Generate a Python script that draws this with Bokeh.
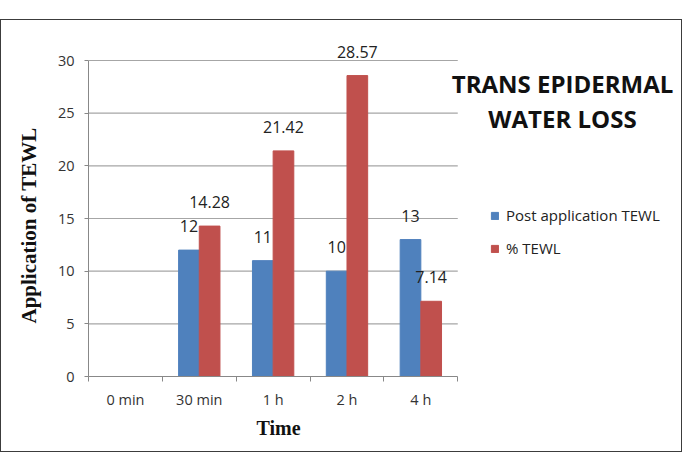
from bokeh.plotting import figure
from bokeh.models import ColumnDataSource, FixedTicker, Legend, LegendItem, Label, Title
from bokeh.transform import dodge
from bokeh.core.properties import value
from bokeh.embed import file_html
from bokeh.resources import INLINE

categories = ["0 min", "30 min", "1 h", "2 h", "4 h"]
post_tewl = [0, 12, 11, 10, 13]
pct_tewl = [0, 14.28, 21.42, 28.57, 7.14]
y_ticks = [0, 5, 10, 15, 20, 25, 30]

BLUE = "#4F81BD"
RED = "#C0504D"
BAR_W = 0.28
GRID = "#A6A6A6"

# layout (pixels)
W, H = 682, 433
LEFT, BOTTOM, TOP, RIGHT = 81, 77, 2, 2
CAT_PX = 74.6          # width of one category in pixels
UNIT_PX = 316 / 30     # pixels per y unit

n = len(categories)
frame_w = W - LEFT - RIGHT
frame_h = H - TOP - BOTTOM
x_end = -0.5 + frame_w / CAT_PX
y_end = frame_h / UNIT_PX

idx = list(range(n))
src = ColumnDataSource(dict(x=idx, post=post_tewl, pct=pct_tewl))

p = figure(width=W, height=H, output_backend="svg", toolbar_location=None,
           x_range=(-0.5, x_end), y_range=(0, y_end),
           min_border_left=LEFT, min_border_right=RIGHT, min_border_top=TOP,
           min_border_bottom=BOTTOM)
p.styles = {"border": "1.5px solid #3c3c3c", "position": "relative", "top": "19px",
            "box-sizing": "border-box"}
p.outline_line_color = None
p.background_fill_color = "white"
p.xgrid.grid_line_color = None
p.ygrid.grid_line_color = None

# horizontal gridlines over the category span only
gl = [t for t in y_ticks if t > 0]
p.segment(x0=[-0.5] * len(gl), x1=[n - 0.5] * len(gl), y0=gl, y1=gl,
          line_color=GRID, line_width=1.2)

r1 = p.vbar(x=dodge("x", -BAR_W / 2), top="post", width=BAR_W, source=src,
            fill_color=BLUE, line_color=BLUE)
r2 = p.vbar(x=dodge("x", BAR_W / 2), top="pct", width=BAR_W, source=src,
            fill_color=RED, line_color=RED)

# data labels
lx, ly, lt = [], [], []
for i, v in enumerate(post_tewl):
    if v > 0:
        lx.append(i - BAR_W / 2); ly.append(v); lt.append(f"{v:g}")
for i, v in enumerate(pct_tewl):
    if v > 0:
        lx.append(i + BAR_W / 2); ly.append(v); lt.append(f"{v:g}")
lsrc = ColumnDataSource(dict(x=lx, y=ly, t=lt))
p.text(x="x", y="y", text="t", source=lsrc, text_align="center", text_baseline="alphabetic",
       y_offset=-24, text_font=value("Open Sans"), text_font_size="16px", text_color="#222222")

# axes
p.xaxis.bounds = (-0.5, n - 0.5)
p.xaxis.ticker = FixedTicker(ticks=idx, minor_ticks=[i - 0.5 for i in range(n + 1)])
p.xaxis.major_label_overrides = {i: c for i, c in enumerate(categories)}
p.xaxis.major_tick_out = 0
p.xaxis.major_tick_in = 0
p.xaxis.minor_tick_out = 5
p.xaxis.minor_tick_in = 0
p.xaxis.minor_tick_line_color = "#888888"
p.xaxis.axis_line_color = "#888888"
p.xaxis.major_label_standoff = 8

p.yaxis.bounds = (0, 30)
p.yaxis.ticker = FixedTicker(ticks=y_ticks)
p.yaxis.minor_tick_line_color = None
p.yaxis.major_tick_out = 4
p.yaxis.major_tick_in = 0
p.yaxis.major_tick_line_color = "#888888"
p.yaxis.axis_line_color = "#888888"
p.yaxis.major_label_standoff = 10

for ax in (p.xaxis, p.yaxis):
    ax.major_label_text_font = "Open Sans"
    ax.major_label_text_font_size = "14.5px"
    ax.major_label_text_color = "#333333"

# axis titles
p.add_layout(Title(text="Time", align="left", offset=168, standoff=6,
                   text_font="Liberation Serif", text_font_style="bold",
                   text_font_size="20px", text_color="#111111"), "below")
p.add_layout(Title(text="Application of TEWL", align="left", offset=53, standoff=27,
                   text_font="Liberation Serif", text_font_style="bold",
                   text_font_size="21px", text_color="#111111"), "left")

legend = Legend(items=[LegendItem(label="Post application TEWL", renderers=[r1]),
                       LegendItem(label="% TEWL", renderers=[r2])],
                location=(402, 118), padding=0, margin=0, border_line_color=None,
                background_fill_alpha=0, glyph_width=9, glyph_height=9, label_height=20,
                spacing=13, label_standoff=7, label_text_font="Open Sans",
                label_text_font_size="15px", label_text_color="#222222")
p.add_layout(legend, "center")

for txt, yy in [("TRANS EPIDERMAL", 293), ("WATER LOSS", 258)]:
    p.add_layout(Label(x=474, y=yy, x_units="screen", y_units="screen", text=txt,
                       text_align="center", text_baseline="middle", text_font="Open Sans",
                       text_font_style="bold", text_font_size="24px", text_color="#111111"))

open("out.html", "w").write(file_html(p, INLINE))
